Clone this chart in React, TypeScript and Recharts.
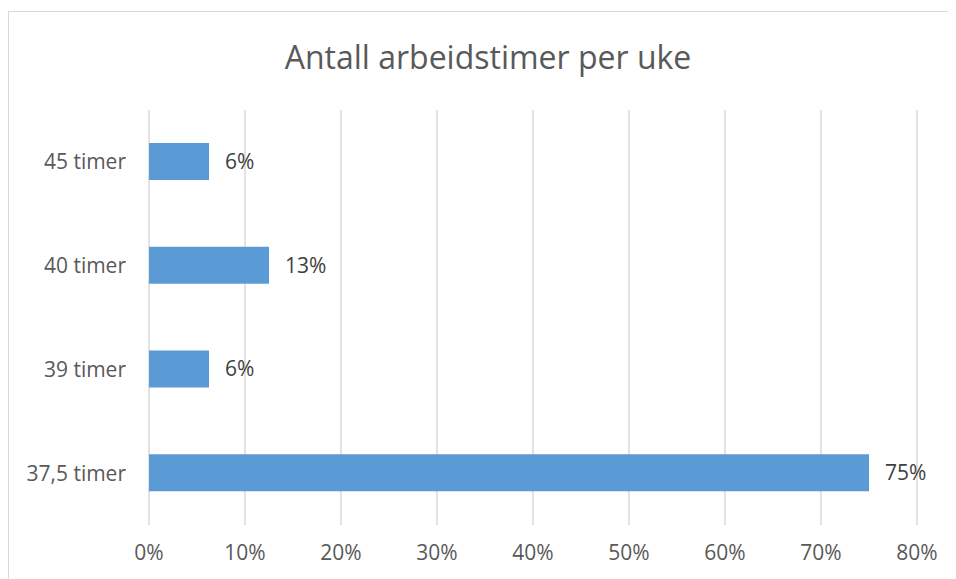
import React from 'react';
import { BarChart, Bar, XAxis, YAxis, CartesianGrid, LabelList } from 'recharts';

const categories = ['45 timer', '40 timer', '39 timer', '37,5 timer'];
const shares = [6.25, 12.5, 6.25, 75];
const xTicks = [0, 10, 20, 30, 40, 50, 60, 70, 80];
const title = 'Antall arbeidstimer per uke';

const data = categories.map((c, i) => ({ name: c, value: shares[i] }));
const FONT = '"Open Sans", sans-serif';

export default function App() {
  return (
    <>
      <style>{`html,body{overflow:hidden;}`}</style>
      <div
        style={{
          marginTop: 3,
          width: 960,
          height: 580,
          borderTop: '1px solid #d9d9d9',
          borderLeft: '1px solid #d9d9d9',
          boxSizing: 'border-box',
          position: 'relative',
          background: '#fff',
          fontFamily: FONT,
        }}
      >
        <div
          style={{
            position: 'absolute',
            left: 0,
            top: 23,
            width: 958,
            textAlign: 'center',
            fontSize: 32,
            color: '#595959',
            fontFamily: FONT,
            lineHeight: '44px',
          }}
        >
          {title}
        </div>
        <BarChart
          width={946}
          height={566}
          data={data}
          layout="vertical"
          margin={{ top: 98, right: 38, bottom: 0, left: 0 }}
        >
          <CartesianGrid horizontal={false} stroke="#d9d9d9" strokeWidth={1.5} />
          <XAxis
            type="number"
            domain={[0, 80]}
            ticks={xTicks}
            axisLine={false}
            tickLine={false}
            tickSize={0}
            tickMargin={20}
            height={53}
            tickFormatter={(v: number) => `${v}%`}
            tick={{ fill: '#595959', fontSize: 21, fontFamily: FONT }}
            interval={0}
          />
          <YAxis
            type="category"
            dataKey="name"
            width={140}
            axisLine={false}
            tickLine={false}
            tickSize={0}
            tickMargin={23}
            tick={{ fill: '#595959', fontSize: 21, fontFamily: FONT }}
          />
          <Bar dataKey="value" fill="#5B9BD5" barSize={37} isAnimationActive={false}>
            <LabelList
              dataKey="value"
              position="right"
              offset={16}
              formatter={(v: number) => `${Math.round(v)}%`}
              style={{ fill: '#404040', fontSize: 21, fontFamily: FONT }}
            />
          </Bar>
        </BarChart>
      </div>
    </>
  );
}
